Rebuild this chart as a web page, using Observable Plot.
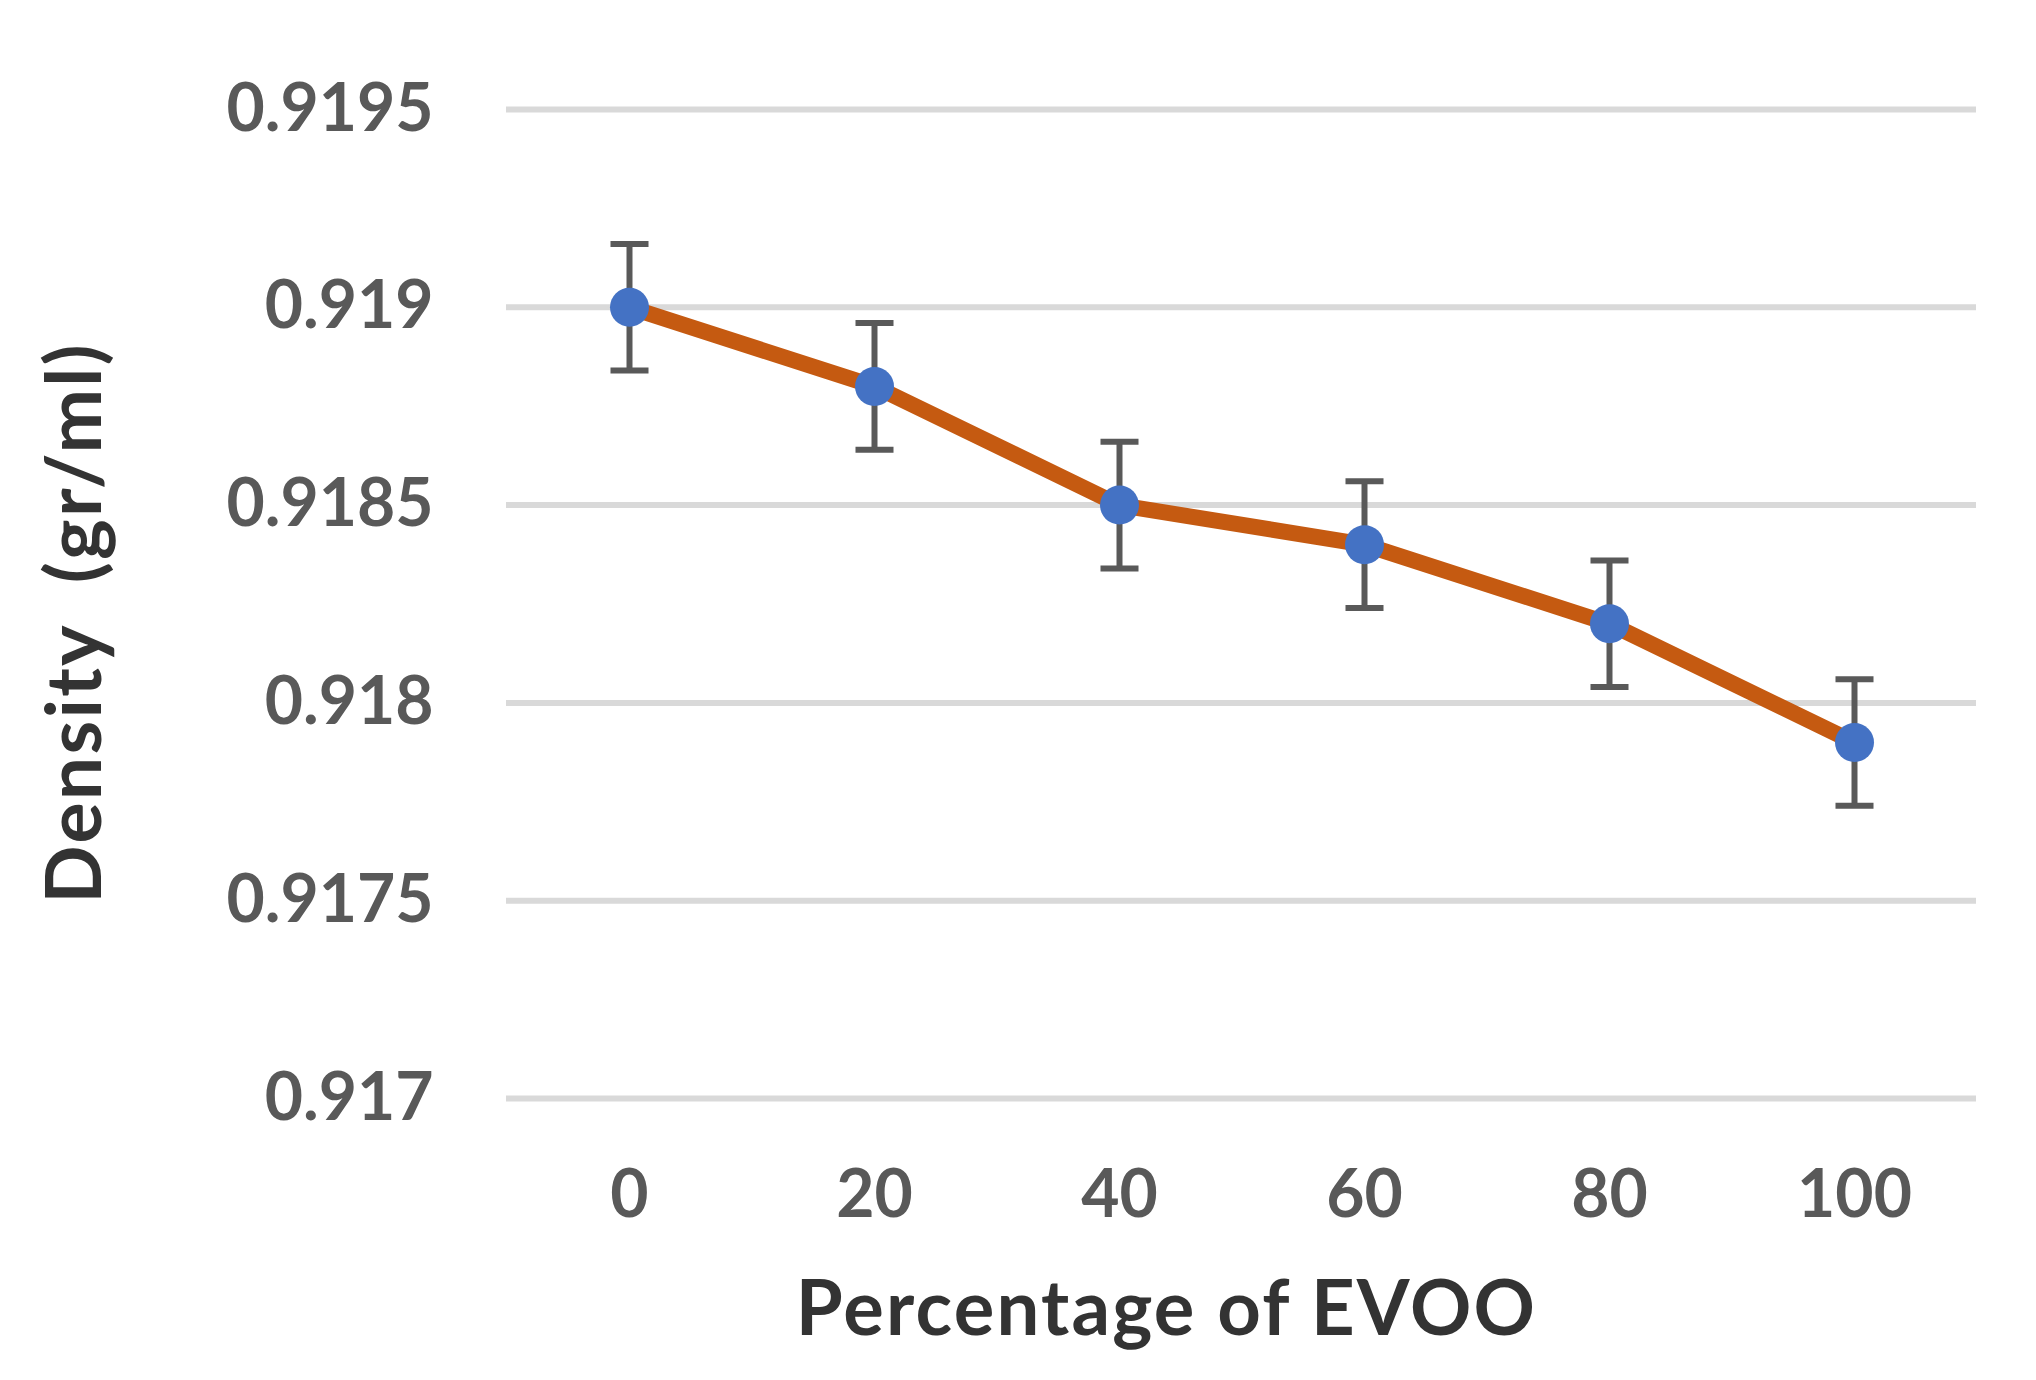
<!DOCTYPE html>
<html><head><meta charset="utf-8">
<script src="https://cdn.jsdelivr.net/npm/d3@7"></script>
<script src="https://cdn.jsdelivr.net/npm/@observablehq/plot@0.6"></script>
<style>body{margin:0;background:#fff} svg text{white-space:pre}</style>
</head><body><div id="chart"></div>
<script>
const evoo = [0, 20, 40, 60, 80, 100];
const density = [0.9190, 0.9188, 0.9185, 0.9184, 0.9182, 0.9179];
const errors = [0.00016, 0.00016, 0.00016, 0.00016, 0.00016, 0.00016];
const yTicks = [0.917, 0.9175, 0.918, 0.9185, 0.919, 0.9195];
const xTickLabels = ["0", "20", "40", "60", "80", "100"];
const yLabel = "Density  (gr/ml)";
const xLabel = "Percentage of EVOO";

const data = evoo.map((p, i) => ({p, v: density[i], e: errors[i]}));
const cap = {draw(context, size) { const r = Math.sqrt(size / Math.PI); context.moveTo(-r, 0); context.lineTo(r, 0); }};

const chart = Plot.plot({
  width: 2036, height: 1380,
  marginTop: 109, marginBottom: 282, marginLeft: 506, marginRight: 60,
  style: {fontFamily: "Lato", background: "#fff"},
  x: {type: "point", domain: evoo, padding: 0.5},
  y: {domain: [0.917, 0.9195]},
  marks: [
    Plot.gridY(yTicks, {stroke: "#d9d9d9", strokeWidth: 6, strokeOpacity: 1}),
    Plot.axisY(yTicks, {tickSize: 0, tickPadding: 73, fontSize: 66, fontWeight: "bold", fill: "#595959", label: null, tickFormat: d => String(d)}),
    Plot.axisX(evoo, {tickSize: 0, tickPadding: 72, fontSize: 66, fontWeight: "bold", fill: "#595959", label: null, tickFormat: d => xTickLabels[evoo.indexOf(d)]}),
    Plot.ruleX(data, {x: "p", y1: d => d.v - d.e, y2: d => d.v + d.e, stroke: "#595959", strokeWidth: 6}),
    Plot.dot(data, {x: "p", y: d => d.v - d.e, symbol: cap, r: 19, stroke: "#595959", strokeWidth: 6}),
    Plot.dot(data, {x: "p", y: d => d.v + d.e, symbol: cap, r: 19, stroke: "#595959", strokeWidth: 6}),
    Plot.line(data, {x: "p", y: "v", stroke: "#C55A11", strokeWidth: 16}),
    Plot.dot(data, {x: "p", y: "v", r: 19.5, fill: "#4472C4", stroke: "none"}),
    Plot.text([yLabel], {text: d => d, frameAnchor: "left", textAnchor: "middle", dx: -430, dy: 19, rotate: -90, fontSize: 77, fontWeight: "bold", fill: "#333333", lineAnchor: "middle"}),
    Plot.text([xLabel], {text: d => d, frameAnchor: "bottom", textAnchor: "middle", dx: -75, dy: 212, fontSize: 76, fontWeight: "bold", fill: "#333333", lineAnchor: "middle"})
  ]
});
d3.select(chart).selectAll('g[aria-label="text"] text').style("letter-spacing", "2.2px");
document.getElementById("chart").appendChild(chart);
</script>
</body></html>
